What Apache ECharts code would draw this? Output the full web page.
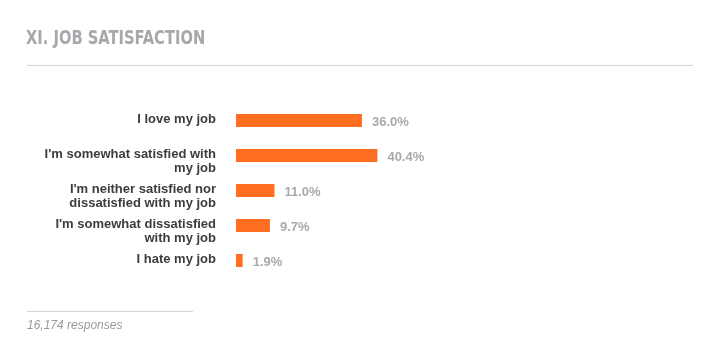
<!DOCTYPE html>
<html><head><meta charset="utf-8">
<script src="https://cdn.jsdelivr.net/npm/echarts@6/dist/echarts.min.js"></script>
<style>html,body{margin:0;padding:0;background:#fff}#c{width:715px;height:351px}</style>
</head><body><div id="c"></div>
<script>
const titleText = 'XI. JOB SATISFACTION';
const footnote = '16,174 responses';
const categories = [
  "I love my job",
  "I'm somewhat satisfied with\nmy job",
  "I'm neither satisfied nor\ndissatisfied with my job",
  "I'm somewhat dissatisfied\nwith my job",
  "I hate my job"
];
const values = [36.0, 40.4, 11.0, 9.7, 1.9];

const chart = echarts.init(document.getElementById('c'));
chart.setOption({
  animation: false,
  graphic: [
    { type: 'text', x: 26, y: 29.5, scaleX: 0.86,
      style: { text: titleText, font: 'bold 19px "DejaVu Sans Condensed", "DejaVu Sans", sans-serif', fill: '#a7a7ac', verticalAlign: 'top' } },
    { type: 'line', shape: { x1: 27, y1: 65.5, x2: 693, y2: 65.5 }, style: { stroke: '#d4d4d4', lineWidth: 1 } },
    { type: 'line', shape: { x1: 27, y1: 311.5, x2: 193, y2: 311.5 }, style: { stroke: '#d4d4d4', lineWidth: 1 } },
    { type: 'text', left: 27, top: 320, style: { text: footnote, font: 'italic 12px "Liberation Sans"', fill: '#9a9a9a' } }
  ],
  grid: { left: 236, top: 103, width: 350, height: 175, containLabel: false },
  xAxis: { type: 'value', min: 0, max: 100, show: false },
  yAxis: {
    type: 'category', data: categories, inverse: true,
    axisLine: { show: false }, axisTick: { show: false }, splitLine: { show: false },
    axisLabel: {
      margin: 20, align: 'right', verticalAlign: 'top', lineHeight: 14,
      padding: [-8, 0, 0, 0],
      fontFamily: 'Liberation Sans', fontWeight: 'bold', fontSize: 13, color: '#3c3c3c'
    }
  },
  series: [{
    type: 'bar', data: values, barWidth: 13,
    itemStyle: { color: '#fe6f21' },
    label: {
      show: true, position: 'right', distance: 10,
      formatter: p => p.value.toFixed(1) + '%',
      fontFamily: 'Liberation Sans', fontWeight: 'bold', fontSize: 13, color: '#a9a9a9',
      offset: [0, 1.5]
    }
  }]
});
</script></body></html>
